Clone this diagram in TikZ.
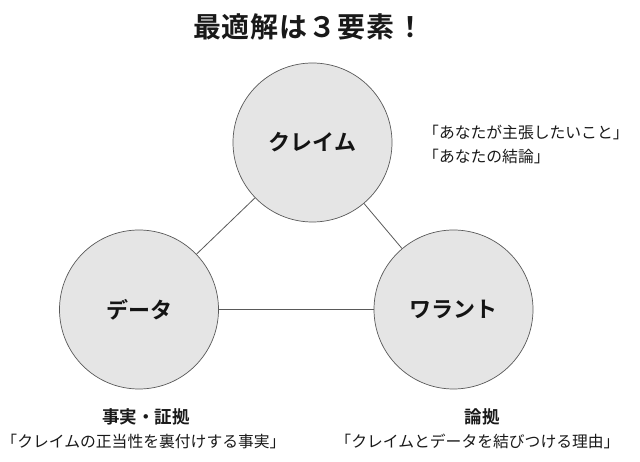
\documentclass[tikz,border=0pt]{standalone}
\usepackage{fontspec}
\setmainfont{Noto Sans CJK JP}[BoldFont={* Bold}]
\begin{document}
\begin{tikzpicture}[x=1pt,y=-1pt,
  circ/.style={circle,draw=black!65,line width=0.7pt,fill=black!10,minimum size=159pt,inner sep=0pt,font=\fontsize{22}{24}\selectfont\bfseries,text=black!92},
  conn/.style={draw=black!65,line width=0.8pt},
  desc/.style={font=\fontsize{15.8}{20}\selectfont,text=black!90,inner sep=0pt},
  head/.style={font=\fontsize{17.5}{20}\selectfont\bfseries,text=black!90,inner sep=0pt}]
\useasboundingbox (0,0) rectangle (640,462);
\node[font=\fontsize{28}{30}\selectfont\bfseries,text=black!90,inner sep=0pt] (title) at (308.5,27) {最\hspace{1pt}適\hspace{1pt}解\hspace{1pt}は\hspace{1pt}３\hspace{1pt}要\hspace{1pt}素\hspace{1pt}！};
\node[circ] (claim) at (312.5,142.5) {クレイム};
\node[circ] (data) at (139,309.5) {データ};
\node[circ] (warrant) at (453.5,309.5) {ワラント};
\draw[conn] (data) -- (claim);
\draw[conn] (claim) -- (warrant);
\draw[conn] (data) -- (warrant);
\node[desc,anchor=west] (cl1) at (423,132) {「あなたが主張したいこと」};
\node[desc,anchor=west] (cl2) at (423,156) {「あなたの結論」};
\node[head] (dh) at (146,417) {事実・証拠};
\node[desc] (dd) at (143.5,441) {「クレイムの正当性を裏付けする事実」};
\node[head] (wh) at (482,417) {論拠};
\node[desc] (wd) at (477.5,441) {「クレイムとデータを結びつける理由」};
\end{tikzpicture}
\end{document}
